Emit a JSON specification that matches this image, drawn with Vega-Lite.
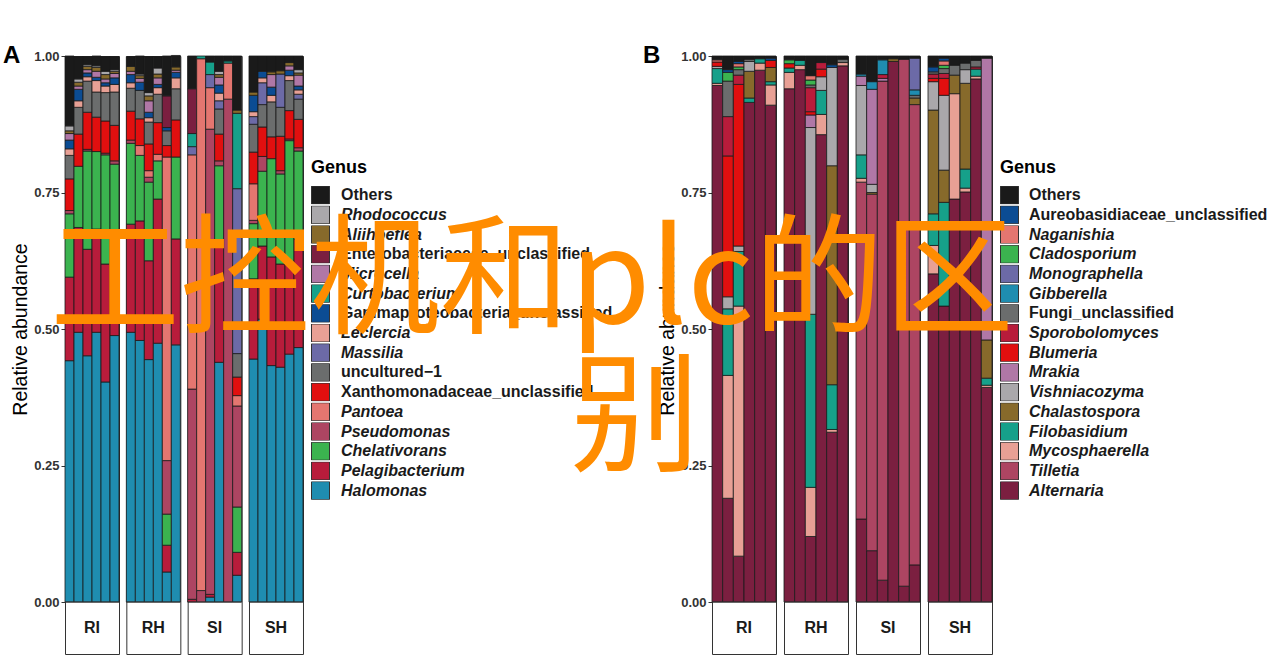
{
  "$schema": "https://vega.github.io/schema/vega-lite/v6.json",
  "background": "white",
  "padding": {"left": 3, "top": 44, "right": 0, "bottom": 0},
  "config": {
    "font": "Liberation Sans",
    "view": {"stroke": "#333333", "strokeWidth": 1},
    "axis": {"labelFont": "Liberation Sans", "labelFontSize": 13, "labelFontWeight": "bold", "labelColor": "#333333", "tickColor": "#333333", "tickSize": 4, "labelPadding": 2, "titleFont": "Liberation Sans", "titleFontSize": 19.5, "titleFontWeight": "normal", "titleColor": "#000000", "titlePadding": 3, "domain": false, "grid": false}
  },
  "title": {"text": ["工控机和plc的区", "\u200b\u3000\u3000\u3000\u3000别"], "anchor": "start", "frame": "group", "align": "left", "fontSize": 130, "font": "Noto Sans CJK SC", "fontWeight": "normal", "color": "#FF8C00", "lineHeight": 138, "offset": -444, "dx": -15, "zindex": 1},
  "datasets": {
    "A": [
      {"g":"RI","s":1,"genus":"Halomonas","v":0.442},{"g":"RI","s":1,"genus":"Pelagibacterium","v":0.153},{"g":"RI","s":1,"genus":"Chelativorans","v":0.116},{"g":"RI","s":1,"genus":"Pseudomonas","v":0.006},{"g":"RI","s":1,"genus":"Xanthomonadaceae_unclassified","v":0.058},{"g":"RI","s":1,"genus":"uncultured−1","v":0.043},{"g":"RI","s":1,"genus":"Leclercia","v":0.012},{"g":"RI","s":1,"genus":"Gammaproteobacteria_unclassified","v":0.016},{"g":"RI","s":1,"genus":"Microcella","v":0.012},{"g":"RI","s":1,"genus":"Aliihoeflea","v":0.005},{"g":"RI","s":1,"genus":"Rhodococcus","v":0.009},{"g":"RI","s":1,"genus":"Others","v":0.128},
      {"g":"RI","s":2,"genus":"Halomonas","v":0.494},{"g":"RI","s":2,"genus":"Pelagibacterium","v":0.192},{"g":"RI","s":2,"genus":"Chelativorans","v":0.112},{"g":"RI","s":2,"genus":"Xanthomonadaceae_unclassified","v":0.059},{"g":"RI","s":2,"genus":"uncultured−1","v":0.049},{"g":"RI","s":2,"genus":"Leclercia","v":0.012},{"g":"RI","s":2,"genus":"Gammaproteobacteria_unclassified","v":0.021},{"g":"RI","s":2,"genus":"Microcella","v":0.006},{"g":"RI","s":2,"genus":"Aliihoeflea","v":0.007},{"g":"RI","s":2,"genus":"Rhodococcus","v":0.006},{"g":"RI","s":2,"genus":"Others","v":0.041},
      {"g":"RI","s":3,"genus":"Halomonas","v":0.451},{"g":"RI","s":3,"genus":"Pelagibacterium","v":0.195},{"g":"RI","s":3,"genus":"Chelativorans","v":0.18},{"g":"RI","s":3,"genus":"Pseudomonas","v":0.003},{"g":"RI","s":3,"genus":"Xanthomonadaceae_unclassified","v":0.068},{"g":"RI","s":3,"genus":"uncultured−1","v":0.057},{"g":"RI","s":3,"genus":"Leclercia","v":0.008},{"g":"RI","s":3,"genus":"Gammaproteobacteria_unclassified","v":0.007},{"g":"RI","s":3,"genus":"Microcella","v":0.006},{"g":"RI","s":3,"genus":"Aliihoeflea","v":0.006},{"g":"RI","s":3,"genus":"Rhodococcus","v":0.003},{"g":"RI","s":3,"genus":"Others","v":0.015},
      {"g":"RI","s":4,"genus":"Halomonas","v":0.494},{"g":"RI","s":4,"genus":"Pelagibacterium","v":0.189},{"g":"RI","s":4,"genus":"Chelativorans","v":0.142},{"g":"RI","s":4,"genus":"Xanthomonadaceae_unclassified","v":0.063},{"g":"RI","s":4,"genus":"uncultured−1","v":0.046},{"g":"RI","s":4,"genus":"Leclercia","v":0.021},{"g":"RI","s":4,"genus":"Gammaproteobacteria_unclassified","v":0.006},{"g":"RI","s":4,"genus":"Microcella","v":0.011},{"g":"RI","s":4,"genus":"Aliihoeflea","v":0.007},{"g":"RI","s":4,"genus":"Rhodococcus","v":0.003},{"g":"RI","s":4,"genus":"Others","v":0.018},
      {"g":"RI","s":5,"genus":"Halomonas","v":0.403},{"g":"RI","s":5,"genus":"Pelagibacterium","v":0.216},{"g":"RI","s":5,"genus":"Chelativorans","v":0.2},{"g":"RI","s":5,"genus":"Pseudomonas","v":0.003},{"g":"RI","s":5,"genus":"Xanthomonadaceae_unclassified","v":0.059},{"g":"RI","s":5,"genus":"uncultured−1","v":0.052},{"g":"RI","s":5,"genus":"Leclercia","v":0.012},{"g":"RI","s":5,"genus":"Gammaproteobacteria_unclassified","v":0.006},{"g":"RI","s":5,"genus":"Microcella","v":0.007},{"g":"RI","s":5,"genus":"Aliihoeflea","v":0.008},{"g":"RI","s":5,"genus":"Rhodococcus","v":0.006},{"g":"RI","s":5,"genus":"Others","v":0.027},
      {"g":"RI","s":6,"genus":"Halomonas","v":0.488},{"g":"RI","s":6,"genus":"Pelagibacterium","v":0.177},{"g":"RI","s":6,"genus":"Chelativorans","v":0.137},{"g":"RI","s":6,"genus":"Pseudomonas","v":0.006},{"g":"RI","s":6,"genus":"Xanthomonadaceae_unclassified","v":0.065},{"g":"RI","s":6,"genus":"uncultured−1","v":0.061},{"g":"RI","s":6,"genus":"Leclercia","v":0.014},{"g":"RI","s":6,"genus":"Gammaproteobacteria_unclassified","v":0.012},{"g":"RI","s":6,"genus":"Microcella","v":0.008},{"g":"RI","s":6,"genus":"Aliihoeflea","v":0.004},{"g":"RI","s":6,"genus":"Rhodococcus","v":0.003},{"g":"RI","s":6,"genus":"Others","v":0.024},
      {"g":"RH","s":1,"genus":"Halomonas","v":0.494},{"g":"RH","s":1,"genus":"Pelagibacterium","v":0.198},{"g":"RH","s":1,"genus":"Chelativorans","v":0.148},{"g":"RH","s":1,"genus":"Pseudomonas","v":0.006},{"g":"RH","s":1,"genus":"Xanthomonadaceae_unclassified","v":0.053},{"g":"RH","s":1,"genus":"uncultured−1","v":0.042},{"g":"RH","s":1,"genus":"Leclercia","v":0.01},{"g":"RH","s":1,"genus":"Gammaproteobacteria_unclassified","v":0.015},{"g":"RH","s":1,"genus":"Microcella","v":0.006},{"g":"RH","s":1,"genus":"Aliihoeflea","v":0.009},{"g":"RH","s":1,"genus":"Others","v":0.018},
      {"g":"RH","s":2,"genus":"Halomonas","v":0.479},{"g":"RH","s":2,"genus":"Pelagibacterium","v":0.219},{"g":"RH","s":2,"genus":"Chelativorans","v":0.12},{"g":"RH","s":2,"genus":"Pantoea","v":0.018},{"g":"RH","s":2,"genus":"Xanthomonadaceae_unclassified","v":0.049},{"g":"RH","s":2,"genus":"uncultured−1","v":0.052},{"g":"RH","s":2,"genus":"Gammaproteobacteria_unclassified","v":0.015},{"g":"RH","s":2,"genus":"Microcella","v":0.007},{"g":"RH","s":2,"genus":"Aliihoeflea","v":0.005},{"g":"RH","s":2,"genus":"Rhodococcus","v":0.003},{"g":"RH","s":2,"genus":"Others","v":0.033},
      {"g":"RH","s":3,"genus":"Halomonas","v":0.444},{"g":"RH","s":3,"genus":"Pelagibacterium","v":0.181},{"g":"RH","s":3,"genus":"Chelativorans","v":0.144},{"g":"RH","s":3,"genus":"Pseudomonas","v":0.009},{"g":"RH","s":3,"genus":"Pantoea","v":0.012},{"g":"RH","s":3,"genus":"Xanthomonadaceae_unclassified","v":0.049},{"g":"RH","s":3,"genus":"uncultured−1","v":0.04},{"g":"RH","s":3,"genus":"Leclercia","v":0.008},{"g":"RH","s":3,"genus":"Gammaproteobacteria_unclassified","v":0.01},{"g":"RH","s":3,"genus":"Microcella","v":0.021},{"g":"RH","s":3,"genus":"Aliihoeflea","v":0.009},{"g":"RH","s":3,"genus":"Rhodococcus","v":0.006},{"g":"RH","s":3,"genus":"Others","v":0.066},
      {"g":"RH","s":4,"genus":"Halomonas","v":0.474},{"g":"RH","s":4,"genus":"Pelagibacterium","v":0.264},{"g":"RH","s":4,"genus":"Chelativorans","v":0.07},{"g":"RH","s":4,"genus":"Pantoea","v":0.012},{"g":"RH","s":4,"genus":"Xanthomonadaceae_unclassified","v":0.058},{"g":"RH","s":4,"genus":"uncultured−1","v":0.052},{"g":"RH","s":4,"genus":"Leclercia","v":0.012},{"g":"RH","s":4,"genus":"Gammaproteobacteria_unclassified","v":0.006},{"g":"RH","s":4,"genus":"Microcella","v":0.012},{"g":"RH","s":4,"genus":"Aliihoeflea","v":0.007},{"g":"RH","s":4,"genus":"Rhodococcus","v":0.011},{"g":"RH","s":4,"genus":"Others","v":0.021},
      {"g":"RH","s":5,"genus":"Halomonas","v":0.055},{"g":"RH","s":5,"genus":"Pelagibacterium","v":0.049},{"g":"RH","s":5,"genus":"Chelativorans","v":0.057},{"g":"RH","s":5,"genus":"Pseudomonas","v":0.098},{"g":"RH","s":5,"genus":"Pantoea","v":0.556},{"g":"RH","s":5,"genus":"Xanthomonadaceae_unclassified","v":0.021},{"g":"RH","s":5,"genus":"uncultured−1","v":0.027},{"g":"RH","s":5,"genus":"Gammaproteobacteria_unclassified","v":0.006},{"g":"RH","s":5,"genus":"Enterobacteriaceae_unclassified","v":0.058},{"g":"RH","s":5,"genus":"Others","v":0.073},
      {"g":"RH","s":6,"genus":"Halomonas","v":0.471},{"g":"RH","s":6,"genus":"Pelagibacterium","v":0.194},{"g":"RH","s":6,"genus":"Chelativorans","v":0.15},{"g":"RH","s":6,"genus":"Xanthomonadaceae_unclassified","v":0.068},{"g":"RH","s":6,"genus":"uncultured−1","v":0.057},{"g":"RH","s":6,"genus":"Leclercia","v":0.02},{"g":"RH","s":6,"genus":"Gammaproteobacteria_unclassified","v":0.01},{"g":"RH","s":6,"genus":"Microcella","v":0.004},{"g":"RH","s":6,"genus":"Aliihoeflea","v":0.006},{"g":"RH","s":6,"genus":"Others","v":0.021},
      {"g":"SI","s":1,"genus":"Pelagibacterium","v":0.005},{"g":"SI","s":1,"genus":"Pseudomonas","v":0.385},{"g":"SI","s":1,"genus":"Pantoea","v":0.429},{"g":"SI","s":1,"genus":"Massilia","v":0.015},{"g":"SI","s":1,"genus":"Curtobacterium","v":0.024},{"g":"SI","s":1,"genus":"Enterobacteriaceae_unclassified","v":0.082},{"g":"SI","s":1,"genus":"Others","v":0.06},
      {"g":"SI","s":2,"genus":"Pseudomonas","v":0.021},{"g":"SI","s":2,"genus":"Pantoea","v":0.974},{"g":"SI","s":2,"genus":"Curtobacterium","v":0.005},
      {"g":"SI","s":3,"genus":"Halomonas","v":0.009},{"g":"SI","s":3,"genus":"Pelagibacterium","v":0.005},{"g":"SI","s":3,"genus":"Pseudomonas","v":0.852},{"g":"SI","s":3,"genus":"Pantoea","v":0.076},{"g":"SI","s":3,"genus":"Massilia","v":0.024},{"g":"SI","s":3,"genus":"Curtobacterium","v":0.023},{"g":"SI","s":3,"genus":"Others","v":0.011},
      {"g":"SI","s":4,"genus":"Halomonas","v":0.439},{"g":"SI","s":4,"genus":"Pelagibacterium","v":0.22},{"g":"SI","s":4,"genus":"Chelativorans","v":0.14},{"g":"SI","s":4,"genus":"Pseudomonas","v":0.009},{"g":"SI","s":4,"genus":"Xanthomonadaceae_unclassified","v":0.049},{"g":"SI","s":4,"genus":"uncultured−1","v":0.046},{"g":"SI","s":4,"genus":"Massilia","v":0.015},{"g":"SI","s":4,"genus":"Leclercia","v":0.014},{"g":"SI","s":4,"genus":"Gammaproteobacteria_unclassified","v":0.015},{"g":"SI","s":4,"genus":"Microcella","v":0.014},{"g":"SI","s":4,"genus":"Aliihoeflea","v":0.005},{"g":"SI","s":4,"genus":"Rhodococcus","v":0.006},{"g":"SI","s":4,"genus":"Others","v":0.028},
      {"g":"SI","s":5,"genus":"Pseudomonas","v":0.921},{"g":"SI","s":5,"genus":"Pantoea","v":0.066},{"g":"SI","s":5,"genus":"Curtobacterium","v":0.004},{"g":"SI","s":5,"genus":"Others","v":0.009},
      {"g":"SI","s":6,"genus":"Halomonas","v":0.049},{"g":"SI","s":6,"genus":"Pelagibacterium","v":0.042},{"g":"SI","s":6,"genus":"Chelativorans","v":0.083},{"g":"SI","s":6,"genus":"Pseudomonas","v":0.185},{"g":"SI","s":6,"genus":"Pantoea","v":0.019},{"g":"SI","s":6,"genus":"Xanthomonadaceae_unclassified","v":0.034},{"g":"SI","s":6,"genus":"uncultured−1","v":0.043},{"g":"SI","s":6,"genus":"Massilia","v":0.302},{"g":"SI","s":6,"genus":"Curtobacterium","v":0.138},{"g":"SI","s":6,"genus":"Aliihoeflea","v":0.006},{"g":"SI","s":6,"genus":"Others","v":0.099},
      {"g":"SH","s":1,"genus":"Halomonas","v":0.445},{"g":"SH","s":1,"genus":"Pelagibacterium","v":0.147},{"g":"SH","s":1,"genus":"Chelativorans","v":0.101},{"g":"SH","s":1,"genus":"Pseudomonas","v":0.006},{"g":"SH","s":1,"genus":"Pantoea","v":0.067},{"g":"SH","s":1,"genus":"Xanthomonadaceae_unclassified","v":0.058},{"g":"SH","s":1,"genus":"uncultured−1","v":0.051},{"g":"SH","s":1,"genus":"Massilia","v":0.014},{"g":"SH","s":1,"genus":"Leclercia","v":0.009},{"g":"SH","s":1,"genus":"Gammaproteobacteria_unclassified","v":0.03},{"g":"SH","s":1,"genus":"Aliihoeflea","v":0.006},{"g":"SH","s":1,"genus":"Others","v":0.066},
      {"g":"SH","s":2,"genus":"Halomonas","v":0.518},{"g":"SH","s":2,"genus":"Pelagibacterium","v":0.134},{"g":"SH","s":2,"genus":"Chelativorans","v":0.137},{"g":"SH","s":2,"genus":"Pseudomonas","v":0.027},{"g":"SH","s":2,"genus":"Xanthomonadaceae_unclassified","v":0.054},{"g":"SH","s":2,"genus":"uncultured−1","v":0.041},{"g":"SH","s":2,"genus":"Massilia","v":0.04},{"g":"SH","s":2,"genus":"Leclercia","v":0.009},{"g":"SH","s":2,"genus":"Gammaproteobacteria_unclassified","v":0.012},{"g":"SH","s":2,"genus":"Others","v":0.028},
      {"g":"SH","s":3,"genus":"Halomonas","v":0.433},{"g":"SH","s":3,"genus":"Pelagibacterium","v":0.199},{"g":"SH","s":3,"genus":"Chelativorans","v":0.18},{"g":"SH","s":3,"genus":"Xanthomonadaceae_unclassified","v":0.04},{"g":"SH","s":3,"genus":"uncultured−1","v":0.064},{"g":"SH","s":3,"genus":"Leclercia","v":0.012},{"g":"SH","s":3,"genus":"Gammaproteobacteria_unclassified","v":0.015},{"g":"SH","s":3,"genus":"Microcella","v":0.023},{"g":"SH","s":3,"genus":"Aliihoeflea","v":0.005},{"g":"SH","s":3,"genus":"Others","v":0.029},
      {"g":"SH","s":4,"genus":"Halomonas","v":0.43},{"g":"SH","s":4,"genus":"Pelagibacterium","v":0.189},{"g":"SH","s":4,"genus":"Chelativorans","v":0.165},{"g":"SH","s":4,"genus":"Pseudomonas","v":0.006},{"g":"SH","s":4,"genus":"Xanthomonadaceae_unclassified","v":0.063},{"g":"SH","s":4,"genus":"uncultured−1","v":0.053},{"g":"SH","s":4,"genus":"Massilia","v":0.061},{"g":"SH","s":4,"genus":"Aliihoeflea","v":0.006},{"g":"SH","s":4,"genus":"Others","v":0.027},
      {"g":"SH","s":5,"genus":"Halomonas","v":0.454},{"g":"SH","s":5,"genus":"Pelagibacterium","v":0.165},{"g":"SH","s":5,"genus":"Chelativorans","v":0.226},{"g":"SH","s":5,"genus":"Pseudomonas","v":0.003},{"g":"SH","s":5,"genus":"Xanthomonadaceae_unclassified","v":0.052},{"g":"SH","s":5,"genus":"uncultured−1","v":0.055},{"g":"SH","s":5,"genus":"Leclercia","v":0.009},{"g":"SH","s":5,"genus":"Gammaproteobacteria_unclassified","v":0.01},{"g":"SH","s":5,"genus":"Microcella","v":0.008},{"g":"SH","s":5,"genus":"Aliihoeflea","v":0.006},{"g":"SH","s":5,"genus":"Others","v":0.012},
      {"g":"SH","s":6,"genus":"Halomonas","v":0.466},{"g":"SH","s":6,"genus":"Pelagibacterium","v":0.198},{"g":"SH","s":6,"genus":"Chelativorans","v":0.162},{"g":"SH","s":6,"genus":"Pseudomonas","v":0.006},{"g":"SH","s":6,"genus":"Xanthomonadaceae_unclassified","v":0.052},{"g":"SH","s":6,"genus":"uncultured−1","v":0.037},{"g":"SH","s":6,"genus":"Massilia","v":0.009},{"g":"SH","s":6,"genus":"Leclercia","v":0.008},{"g":"SH","s":6,"genus":"Gammaproteobacteria_unclassified","v":0.007},{"g":"SH","s":6,"genus":"Microcella","v":0.02},{"g":"SH","s":6,"genus":"Aliihoeflea","v":0.004},{"g":"SH","s":6,"genus":"Rhodococcus","v":0.006},{"g":"SH","s":6,"genus":"Others","v":0.025}
    ],
    "B": [
      {"g":"RI","s":1,"genus":"Alternaria","v":0.946},{"g":"RI","s":1,"genus":"Mycosphaerella","v":0.004},{"g":"RI","s":1,"genus":"Filobasidium","v":0.027},{"g":"RI","s":1,"genus":"Vishniacozyma","v":0.004},{"g":"RI","s":1,"genus":"Blumeria","v":0.008},{"g":"RI","s":1,"genus":"Naganishia","v":0.004},{"g":"RI","s":1,"genus":"Others","v":0.007},
      {"g":"RI","s":2,"genus":"Alternaria","v":0.19},{"g":"RI","s":2,"genus":"Mycosphaerella","v":0.225},{"g":"RI","s":2,"genus":"Filobasidium","v":0.122},{"g":"RI","s":2,"genus":"Vishniacozyma","v":0.022},{"g":"RI","s":2,"genus":"Blumeria","v":0.258},{"g":"RI","s":2,"genus":"Sporobolomyces","v":0.072},{"g":"RI","s":2,"genus":"Fungi_unclassified","v":0.065},{"g":"RI","s":2,"genus":"Cladosporium","v":0.016},{"g":"RI","s":2,"genus":"Aureobasidiaceae_unclassified","v":0.005},{"g":"RI","s":2,"genus":"Others","v":0.025},
      {"g":"RI","s":3,"genus":"Alternaria","v":0.084},{"g":"RI","s":3,"genus":"Mycosphaerella","v":0.458},{"g":"RI","s":3,"genus":"Filobasidium","v":0.1},{"g":"RI","s":3,"genus":"Vishniacozyma","v":0.01},{"g":"RI","s":3,"genus":"Blumeria","v":0.296},{"g":"RI","s":3,"genus":"Sporobolomyces","v":0.017},{"g":"RI","s":3,"genus":"Fungi_unclassified","v":0.01},{"g":"RI","s":3,"genus":"Cladosporium","v":0.005},{"g":"RI","s":3,"genus":"Naganishia","v":0.006},{"g":"RI","s":3,"genus":"Aureobasidiaceae_unclassified","v":0.004},{"g":"RI","s":3,"genus":"Others","v":0.01},
      {"g":"RI","s":4,"genus":"Alternaria","v":0.915},{"g":"RI","s":4,"genus":"Filobasidium","v":0.008},{"g":"RI","s":4,"genus":"Chalastospora","v":0.049},{"g":"RI","s":4,"genus":"Vishniacozyma","v":0.018},{"g":"RI","s":4,"genus":"Fungi_unclassified","v":0.004},{"g":"RI","s":4,"genus":"Others","v":0.006},
      {"g":"RI","s":5,"genus":"Alternaria","v":0.974},{"g":"RI","s":5,"genus":"Mycosphaerella","v":0.013},{"g":"RI","s":5,"genus":"Filobasidium","v":0.008},{"g":"RI","s":5,"genus":"Others","v":0.005},
      {"g":"RI","s":6,"genus":"Alternaria","v":0.91},{"g":"RI","s":6,"genus":"Mycosphaerella","v":0.037},{"g":"RI","s":6,"genus":"Filobasidium","v":0.006},{"g":"RI","s":6,"genus":"Chalastospora","v":0.026},{"g":"RI","s":6,"genus":"Blumeria","v":0.013},{"g":"RI","s":6,"genus":"Aureobasidiaceae_unclassified","v":0.004},{"g":"RI","s":6,"genus":"Others","v":0.004},
      {"g":"RH","s":1,"genus":"Alternaria","v":0.94},{"g":"RH","s":1,"genus":"Mycosphaerella","v":0.03},{"g":"RH","s":1,"genus":"Filobasidium","v":0.008},{"g":"RH","s":1,"genus":"Blumeria","v":0.008},{"g":"RH","s":1,"genus":"Cladosporium","v":0.007},{"g":"RH","s":1,"genus":"Others","v":0.007},
      {"g":"RH","s":2,"genus":"Alternaria","v":0.975},{"g":"RH","s":2,"genus":"Mycosphaerella","v":0.008},{"g":"RH","s":2,"genus":"Filobasidium","v":0.009},{"g":"RH","s":2,"genus":"Others","v":0.008},
      {"g":"RH","s":3,"genus":"Alternaria","v":0.12},{"g":"RH","s":3,"genus":"Mycosphaerella","v":0.09},{"g":"RH","s":3,"genus":"Filobasidium","v":0.317},{"g":"RH","s":3,"genus":"Vishniacozyma","v":0.342},{"g":"RH","s":3,"genus":"Mrakia","v":0.023},{"g":"RH","s":3,"genus":"Blumeria","v":0.006},{"g":"RH","s":3,"genus":"Sporobolomyces","v":0.044},{"g":"RH","s":3,"genus":"Fungi_unclassified","v":0.005},{"g":"RH","s":3,"genus":"Cladosporium","v":0.009},{"g":"RH","s":3,"genus":"Naganishia","v":0.008},{"g":"RH","s":3,"genus":"Others","v":0.036},
      {"g":"RH","s":4,"genus":"Alternaria","v":0.856},{"g":"RH","s":4,"genus":"Mycosphaerella","v":0.037},{"g":"RH","s":4,"genus":"Filobasidium","v":0.044},{"g":"RH","s":4,"genus":"Vishniacozyma","v":0.025},{"g":"RH","s":4,"genus":"Blumeria","v":0.014},{"g":"RH","s":4,"genus":"Sporobolomyces","v":0.012},{"g":"RH","s":4,"genus":"Others","v":0.012},
      {"g":"RH","s":5,"genus":"Alternaria","v":0.311},{"g":"RH","s":5,"genus":"Mycosphaerella","v":0.005},{"g":"RH","s":5,"genus":"Filobasidium","v":0.082},{"g":"RH","s":5,"genus":"Chalastospora","v":0.401},{"g":"RH","s":5,"genus":"Vishniacozyma","v":0.18},{"g":"RH","s":5,"genus":"Aureobasidiaceae_unclassified","v":0.005},{"g":"RH","s":5,"genus":"Others","v":0.016},
      {"g":"RH","s":6,"genus":"Alternaria","v":0.982},{"g":"RH","s":6,"genus":"Mycosphaerella","v":0.006},{"g":"RH","s":6,"genus":"Fungi_unclassified","v":0.006},{"g":"RH","s":6,"genus":"Others","v":0.006},
      {"g":"SI","s":1,"genus":"Alternaria","v":0.152},{"g":"SI","s":1,"genus":"Tilletia","v":0.617},{"g":"SI","s":1,"genus":"Mycosphaerella","v":0.007},{"g":"SI","s":1,"genus":"Filobasidium","v":0.043},{"g":"SI","s":1,"genus":"Vishniacozyma","v":0.127},{"g":"SI","s":1,"genus":"Mrakia","v":0.017},{"g":"SI","s":1,"genus":"Gibberella","v":0.004},{"g":"SI","s":1,"genus":"Others","v":0.033},
      {"g":"SI","s":2,"genus":"Alternaria","v":0.094},{"g":"SI","s":2,"genus":"Tilletia","v":0.653},{"g":"SI","s":2,"genus":"Chalastospora","v":0.003},{"g":"SI","s":2,"genus":"Vishniacozyma","v":0.015},{"g":"SI","s":2,"genus":"Mrakia","v":0.174},{"g":"SI","s":2,"genus":"Gibberella","v":0.014},{"g":"SI","s":2,"genus":"Others","v":0.047},
      {"g":"SI","s":3,"genus":"Alternaria","v":0.04},{"g":"SI","s":3,"genus":"Tilletia","v":0.914},{"g":"SI","s":3,"genus":"Mrakia","v":0.005},{"g":"SI","s":3,"genus":"Sporobolomyces","v":0.007},{"g":"SI","s":3,"genus":"Gibberella","v":0.027},{"g":"SI","s":3,"genus":"Others","v":0.007},
      {"g":"SI","s":4,"genus":"Alternaria","v":0.99},{"g":"SI","s":4,"genus":"Chalastospora","v":0.005},{"g":"SI","s":4,"genus":"Others","v":0.005},
      {"g":"SI","s":5,"genus":"Alternaria","v":0.029},{"g":"SI","s":5,"genus":"Tilletia","v":0.965},{"g":"SI","s":5,"genus":"Others","v":0.006},
      {"g":"SI","s":6,"genus":"Alternaria","v":0.068},{"g":"SI","s":6,"genus":"Tilletia","v":0.843},{"g":"SI","s":6,"genus":"Chalastospora","v":0.012},{"g":"SI","s":6,"genus":"Fungi_unclassified","v":0.005},{"g":"SI","s":6,"genus":"Gibberella","v":0.01},{"g":"SI","s":6,"genus":"Monographella","v":0.058},{"g":"SI","s":6,"genus":"Others","v":0.004},
      {"g":"SH","s":1,"genus":"Alternaria","v":0.601},{"g":"SH","s":1,"genus":"Mycosphaerella","v":0.052},{"g":"SH","s":1,"genus":"Filobasidium","v":0.058},{"g":"SH","s":1,"genus":"Chalastospora","v":0.19},{"g":"SH","s":1,"genus":"Vishniacozyma","v":0.052},{"g":"SH","s":1,"genus":"Blumeria","v":0.006},{"g":"SH","s":1,"genus":"Sporobolomyces","v":0.008},{"g":"SH","s":1,"genus":"Fungi_unclassified","v":0.004},{"g":"SH","s":1,"genus":"Aureobasidiaceae_unclassified","v":0.009},{"g":"SH","s":1,"genus":"Others","v":0.02},
      {"g":"SH","s":2,"genus":"Alternaria","v":0.542},{"g":"SH","s":2,"genus":"Filobasidium","v":0.19},{"g":"SH","s":2,"genus":"Chalastospora","v":0.059},{"g":"SH","s":2,"genus":"Vishniacozyma","v":0.137},{"g":"SH","s":2,"genus":"Blumeria","v":0.031},{"g":"SH","s":2,"genus":"Sporobolomyces","v":0.009},{"g":"SH","s":2,"genus":"Fungi_unclassified","v":0.009},{"g":"SH","s":2,"genus":"Cladosporium","v":0.006},{"g":"SH","s":2,"genus":"Naganishia","v":0.008},{"g":"SH","s":2,"genus":"Aureobasidiaceae_unclassified","v":0.005},{"g":"SH","s":2,"genus":"Others","v":0.004},
      {"g":"SH","s":3,"genus":"Alternaria","v":0.738},{"g":"SH","s":3,"genus":"Mycosphaerella","v":0.193},{"g":"SH","s":3,"genus":"Chalastospora","v":0.034},{"g":"SH","s":3,"genus":"Fungi_unclassified","v":0.018},{"g":"SH","s":3,"genus":"Others","v":0.017},
      {"g":"SH","s":4,"genus":"Alternaria","v":0.751},{"g":"SH","s":4,"genus":"Mycosphaerella","v":0.007},{"g":"SH","s":4,"genus":"Filobasidium","v":0.035},{"g":"SH","s":4,"genus":"Chalastospora","v":0.157},{"g":"SH","s":4,"genus":"Vishniacozyma","v":0.025},{"g":"SH","s":4,"genus":"Fungi_unclassified","v":0.012},{"g":"SH","s":4,"genus":"Others","v":0.013},
      {"g":"SH","s":5,"genus":"Alternaria","v":0.958},{"g":"SH","s":5,"genus":"Mycosphaerella","v":0.005},{"g":"SH","s":5,"genus":"Filobasidium","v":0.013},{"g":"SH","s":5,"genus":"Sporobolomyces","v":0.004},{"g":"SH","s":5,"genus":"Fungi_unclassified","v":0.012},{"g":"SH","s":5,"genus":"Others","v":0.008},
      {"g":"SH","s":6,"genus":"Alternaria","v":0.393},{"g":"SH","s":6,"genus":"Mycosphaerella","v":0.004},{"g":"SH","s":6,"genus":"Filobasidium","v":0.013},{"g":"SH","s":6,"genus":"Chalastospora","v":0.07},{"g":"SH","s":6,"genus":"Mrakia","v":0.516},{"g":"SH","s":6,"genus":"Others","v":0.004}
    ]
  },
  "hconcat": [
    {
      "data": {"name": "A"},
      "title": {"text": "A", "anchor": "start", "frame": "group", "fontSize": 24, "fontWeight": "bold", "color": "#000000", "font": "Liberation Sans", "dx": -62, "offset": -18},
      "facet": {"column": {"field": "g", "type": "nominal", "sort": ["RI", "RH", "SI", "SH"], "header": null}},
      "spacing": {"column": 7.33},
      "bounds": "flush",
      "spec": {
        "width": 54,
        "height": 598,
        "layer": [
          {
            "transform": [{"calculate": "indexof(['Others','Rhodococcus','Aliihoeflea','Enterobacteriaceae_unclassified','Microcella','Curtobacterium','Gammaproteobacteria_unclassified','Leclercia','Massilia','uncultured−1','Xanthomonadaceae_unclassified','Pantoea','Pseudomonas','Chelativorans','Pelagibacterium','Halomonas'], datum.genus)", "as": "rank"}],
            "mark": {"type": "bar", "stroke": "#1a1a1a", "strokeWidth": 0.8},
            "encoding": {
              "x": {"field": "s", "type": "ordinal", "axis": null, "scale": {"paddingInner": 0, "paddingOuter": 0}},
              "y": {"field": "v", "type": "quantitative", "stack": "zero", "scale": {"domain": [-0.0952, 1], "nice": false, "zero": false}, "axis": {"values": [0, 0.25, 0.5, 0.75, 1], "format": ".2f", "title": "Relative abundance", "titleY": 273}},
              "color": {
                "field": "genus", "type": "nominal",
                "scale": {"domain": ["Others","Rhodococcus","Aliihoeflea","Enterobacteriaceae_unclassified","Microcella","Curtobacterium","Gammaproteobacteria_unclassified","Leclercia","Massilia","uncultured−1","Xanthomonadaceae_unclassified","Pantoea","Pseudomonas","Chelativorans","Pelagibacterium","Halomonas"],
                          "range": ["#1a1a1a","#aaa8ab","#876a2b","#7b1f40","#b077a6","#16a08a","#0b4c93","#e8a095","#6c6aa7","#6b6d6d","#e10f0f","#e47670","#ad4562","#3bb34f","#b81c3b","#1f8db0"]},
                "legend": {"title": "Genus", "orient": "none", "legendX": 246, "legendY": 103, "padding": 0, "titleFont": "Liberation Sans", "titleFontSize": 18, "titleFontWeight": "bold", "titleColor": "#000000", "titlePadding": 9, "labelFont": "Liberation Sans", "labelFontSize": 16, "labelFontWeight": "bold", "labelColor": "#1a1a1a", "labelLimit": 400, "labelOffset": 11, "symbolType": "square", "symbolSize": 324, "symbolStrokeColor": "#333333", "symbolStrokeWidth": 1, "symbolOpacity": 1, "rowPadding": 0.7, "clipHeight": 18.2,
                  "encode": {"labels": {"update": {"fontStyle": {"signal": "indexof(['Others','Enterobacteriaceae_unclassified','Gammaproteobacteria_unclassified','uncultured−1','Xanthomonadaceae_unclassified'], datum.value) >= 0 ? 'normal' : 'italic'"}}}}}
              },
              "order": {"field": "rank", "type": "quantitative", "sort": "descending"}
            }
          },
          {
            "transform": [{"aggregate": [{"op": "count", "as": "n"}], "groupby": ["g"]}],
            "mark": {"type": "rule", "color": "#333333", "strokeWidth": 1},
            "encoding": {"y": {"datum": 0}}
          },
          {
            "transform": [{"aggregate": [{"op": "count", "as": "n"}], "groupby": ["g"]}],
            "mark": {"type": "text", "font": "Liberation Sans", "fontSize": 16, "fontWeight": "bold", "color": "#1a1a1a", "baseline": "middle", "align": "center"},
            "encoding": {"y": {"datum": -0.0476}, "text": {"field": "g"}}
          }
        ]
      }
    },
    {
      "data": {"name": "B"},
      "title": {"text": "B", "anchor": "start", "frame": "group", "fontSize": 24, "fontWeight": "bold", "color": "#000000", "font": "Liberation Sans", "dx": -69, "offset": -18},
      "facet": {"column": {"field": "g", "type": "nominal", "sort": ["RI", "RH", "SI", "SH"], "header": null}},
      "spacing": {"column": 8},
      "bounds": "flush",
      "spec": {
        "width": 64,
        "height": 598,
        "layer": [
          {
            "transform": [{"calculate": "indexof(['Others','Aureobasidiaceae_unclassified','Naganishia','Cladosporium','Monographella','Gibberella','Fungi_unclassified','Sporobolomyces','Blumeria','Mrakia','Vishniacozyma','Chalastospora','Filobasidium','Mycosphaerella','Tilletia','Alternaria'], datum.genus)", "as": "rank"}],
            "mark": {"type": "bar", "stroke": "#1a1a1a", "strokeWidth": 0.8},
            "encoding": {
              "x": {"field": "s", "type": "ordinal", "axis": null, "scale": {"paddingInner": 0, "paddingOuter": 0}},
              "y": {"field": "v", "type": "quantitative", "stack": "zero", "scale": {"domain": [-0.0952, 1], "nice": false, "zero": false}, "axis": {"values": [0, 0.25, 0.5, 0.75, 1], "format": ".2f", "title": "Relative abundance", "titleY": 273}},
              "color": {
                "field": "genus", "type": "nominal",
                "scale": {"domain": ["Others","Aureobasidiaceae_unclassified","Naganishia","Cladosporium","Monographella","Gibberella","Fungi_unclassified","Sporobolomyces","Blumeria","Mrakia","Vishniacozyma","Chalastospora","Filobasidium","Mycosphaerella","Tilletia","Alternaria"],
                          "range": ["#1a1a1a","#0b4c93","#e47670","#3bb34f","#6c6aa7","#1f8db0","#6b6d6d","#b81c3b","#e10f0f","#b077a6","#aaa8ab","#876a2b","#16a08a","#e8a095","#ad4562","#7b1f40"]},
                "legend": {"title": "Genus", "orient": "none", "legendX": 288, "legendY": 103, "padding": 0, "titleFont": "Liberation Sans", "titleFontSize": 18, "titleFontWeight": "bold", "titleColor": "#000000", "titlePadding": 9, "labelFont": "Liberation Sans", "labelFontSize": 16, "labelFontWeight": "bold", "labelColor": "#1a1a1a", "labelLimit": 400, "labelOffset": 10, "symbolType": "square", "symbolSize": 324, "symbolStrokeColor": "#333333", "symbolStrokeWidth": 1, "symbolOpacity": 1, "rowPadding": 0.7, "clipHeight": 18.2,
                  "encode": {"labels": {"update": {"fontStyle": {"signal": "indexof(['Others','Aureobasidiaceae_unclassified','Fungi_unclassified'], datum.value) >= 0 ? 'normal' : 'italic'"}}}}}
              },
              "order": {"field": "rank", "type": "quantitative", "sort": "descending"}
            }
          },
          {
            "transform": [{"aggregate": [{"op": "count", "as": "n"}], "groupby": ["g"]}],
            "mark": {"type": "rule", "color": "#333333", "strokeWidth": 1},
            "encoding": {"y": {"datum": 0}}
          },
          {
            "transform": [{"aggregate": [{"op": "count", "as": "n"}], "groupby": ["g"]}],
            "mark": {"type": "text", "font": "Liberation Sans", "fontSize": 16, "fontWeight": "bold", "color": "#1a1a1a", "baseline": "middle", "align": "center"},
            "encoding": {"y": {"datum": -0.0476}, "text": {"field": "g"}}
          }
        ]
      }
    }
  ],
  "spacing": 647,
  "bounds": "flush",
  "resolve": {"scale": {"color": "independent", "y": "independent", "x": "independent"}, "legend": {"color": "independent"}}
}
